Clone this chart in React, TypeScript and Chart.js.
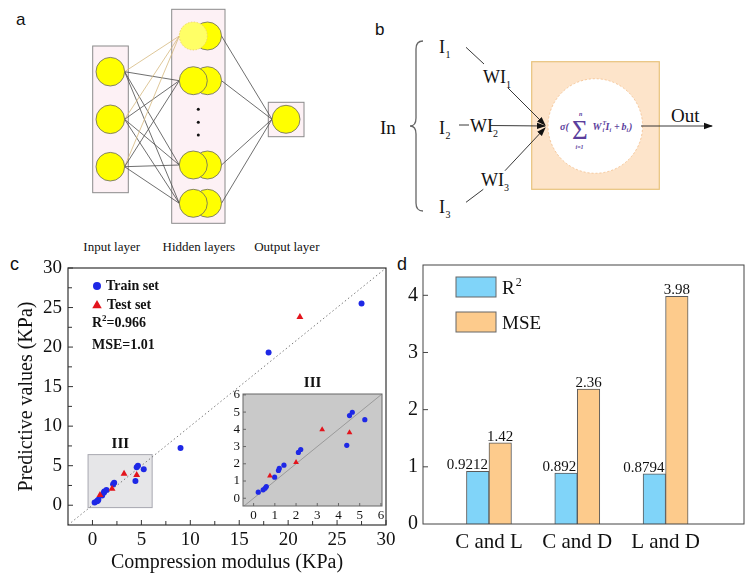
import React, { useEffect, useRef } from 'react';
import { Chart, registerables } from 'chart.js';

Chart.register(...registerables);

const SERIF = '"Liberation Serif", "Times New Roman", serif';
const SANS = '"Liberation Sans", Arial, sans-serif';

// ---- Panel c data (Compression modulus vs predicted, KPa) ----
const trainModulus = [0.22, 0.45, 0.54, 0.6, 0.99, 1.17, 1.21, 1.43, 2.11, 2.22, 4.39, 4.52, 4.65, 5.24, 9.0, 18.0, 27.5];
const trainPredicted = [0.35, 0.49, 0.58, 0.68, 1.22, 1.61, 1.73, 1.92, 2.66, 2.83, 3.07, 4.8, 4.99, 4.56, 7.25, 19.3, 25.5];
const testModulus = [0.77, 2.0, 3.23, 4.52, 21.2];
const testPredicted = [1.3, 2.08, 3.98, 3.81, 23.8];
const mainRange = [-2.5, 30];
const insetRange = [-0.45, 6.05];
const insetBox = { x0: -0.45, x1: 6.1, y0: -0.3, y1: 6.4 };
const statsText = ['R', '2', '=0.966'];
const mseText = 'MSE=1.01';

// ---- Panel d data ----
const categories = ['C and L', 'C and D', 'L and D'];
const r2Values = [0.9212, 0.892, 0.8794];
const mseValues = [1.42, 2.36, 3.98];

const BLUE = '#1e28e6';
const RED = '#e3141c';
const BAR_BLUE = '#80d4f9';
const BAR_ORANGE = '#fdcb8c';

function pts(xs: number[], ys: number[]) {
  return xs.map((x, i) => ({ x, y: ys[i] }));
}

function fixWidth(w: number) {
  return (s: any) => {
    s.width = w;
    s.paddingTop = 0;
    s.paddingBottom = 0;
  };
}
function fixHeight(h: number) {
  return (s: any) => {
    s.height = h;
    s.paddingLeft = 0;
    s.paddingRight = 0;
  };
}

function drawTriangle(ctx: CanvasRenderingContext2D, x: number, y: number, r: number) {
  ctx.beginPath();
  ctx.moveTo(x, y - r);
  ctx.lineTo(x + r * 0.95, y + r * 0.65);
  ctx.lineTo(x - r * 0.95, y + r * 0.65);
  ctx.closePath();
  ctx.fill();
}

const mainPlugin = {
  id: 'mainDecor',
  beforeDatasetsDraw(chart: any) {
    const { ctx, scales } = chart;
    const x = scales.x, y = scales.y;
    const px0 = x.getPixelForValue(insetBox.x0), px1 = x.getPixelForValue(insetBox.x1);
    const py0 = y.getPixelForValue(insetBox.y0), py1 = y.getPixelForValue(insetBox.y1);
    ctx.save();
    ctx.fillStyle = '#e6e6e8';
    ctx.fillRect(px0, py1, px1 - px0, py0 - py1);
    ctx.strokeStyle = '#a8a8b0';
    ctx.lineWidth = 1;
    ctx.strokeRect(px0, py1, px1 - px0, py0 - py1);
    ctx.restore();
  },
  afterDraw(chart: any) {
    const { ctx, chartArea: ca, scales } = chart;
    const x = scales.x, y = scales.y;
    ctx.save();
    ctx.strokeStyle = '#333';
    ctx.lineWidth = 1.2;
    ctx.strokeRect(ca.left, ca.top, ca.right - ca.left, ca.bottom - ca.top);
    ctx.lineWidth = 1;
    for (let v = 0; v <= 30; v += 2.5) {
      const len = v % 5 === 0 ? 5 : 4;
      const px = x.getPixelForValue(v);
      ctx.beginPath();
      ctx.moveTo(px, ca.bottom);
      ctx.lineTo(px, ca.bottom - len);
      ctx.stroke();
      const py = y.getPixelForValue(v);
      ctx.beginPath();
      ctx.moveTo(ca.left, py);
      ctx.lineTo(ca.left + len, py);
      ctx.stroke();
    }
    ctx.fillStyle = '#111';
    ctx.font = `bold 15px ${SERIF}`;
    ctx.textAlign = 'center';
    ctx.textBaseline = 'middle';
    ctx.fillText('III', x.getPixelForValue(2.85), y.getPixelForValue(7.7));
    ctx.fillText('III', x.getPixelForValue(22.5), y.getPixelForValue(15.4));
    const lx = ca.left + 29;
    ctx.fillStyle = BLUE;
    ctx.beginPath();
    ctx.arc(lx, ca.top + 18, 4, 0, Math.PI * 2);
    ctx.fill();
    ctx.fillStyle = RED;
    drawTriangle(ctx, lx, ca.top + 37, 5);
    ctx.fillStyle = '#111';
    ctx.font = `bold 14px ${SERIF}`;
    ctx.textAlign = 'left';
    ctx.fillText('Train set', lx + 9, ca.top + 18);
    ctx.fillText('Test set', lx + 10, ca.top + 37);
    let tx = ca.left + 24;
    const ty = ca.top + 55;
    ctx.fillText(statsText[0], tx, ty);
    tx += ctx.measureText(statsText[0]).width;
    ctx.font = `bold 9px ${SERIF}`;
    ctx.fillText(statsText[1], tx, ty - 4);
    tx += ctx.measureText(statsText[1]).width;
    ctx.font = `bold 14px ${SERIF}`;
    ctx.fillText(statsText[2], tx, ty);
    ctx.fillText(mseText, ca.left + 24, ca.top + 77);
    ctx.restore();
  },
};

const insetPlugin = {
  id: 'insetDecor',
  beforeDatasetsDraw(chart: any) {
    const { ctx, chartArea: ca } = chart;
    ctx.save();
    ctx.fillStyle = '#c9c9c9';
    ctx.fillRect(ca.left, ca.top, ca.right - ca.left, ca.bottom - ca.top);
    ctx.restore();
  },
  afterDraw(chart: any) {
    const { ctx, chartArea: ca, scales } = chart;
    ctx.save();
    ctx.strokeStyle = '#666';
    ctx.lineWidth = 1;
    ctx.strokeRect(ca.left, ca.top, ca.right - ca.left, ca.bottom - ca.top);
    for (let v = 0; v <= 6; v++) {
      const px = scales.x.getPixelForValue(v);
      ctx.beginPath();
      ctx.moveTo(px, ca.bottom);
      ctx.lineTo(px, ca.bottom - 3);
      ctx.stroke();
      const py = scales.y.getPixelForValue(v);
      ctx.beginPath();
      ctx.moveTo(ca.left, py);
      ctx.lineTo(ca.left + 3, py);
      ctx.stroke();
    }
    ctx.restore();
  },
};

const barPlugin = {
  id: 'barDecor',
  afterDatasetsDraw(chart: any) {
    const { ctx } = chart;
    ctx.save();
    ctx.fillStyle = '#111';
    ctx.font = `15px ${SERIF}`;
    ctx.textBaseline = 'alphabetic';
    const m0 = chart.getDatasetMeta(0);
    const m1 = chart.getDatasetMeta(1);
    m0.data.forEach((el: any, i: number) => {
      ctx.textAlign = 'right';
      ctx.fillText(String(r2Values[i]), el.x + el.width / 2 - 1, el.y - 2);
    });
    m1.data.forEach((el: any, i: number) => {
      ctx.textAlign = 'center';
      ctx.fillText(String(mseValues[i]), el.x, el.y - 2);
    });
    ctx.restore();
  },
  afterDraw(chart: any) {
    const { ctx, chartArea: ca, scales } = chart;
    ctx.save();
    ctx.strokeStyle = '#444';
    ctx.lineWidth = 1;
    ctx.strokeRect(ca.left, ca.top, ca.right - ca.left, ca.bottom - ca.top);
    for (let v = 1; v <= 4; v++) {
      const py = scales.y.getPixelForValue(v);
      ctx.beginPath();
      ctx.moveTo(ca.left, py);
      ctx.lineTo(ca.left + 5, py);
      ctx.stroke();
    }
    const bx = ca.left + 33;
    const items = [
      { c: BAR_BLUE, y: ca.top + 12 },
      { c: BAR_ORANGE, y: ca.top + 47 },
    ];
    items.forEach((it) => {
      ctx.fillStyle = it.c;
      ctx.fillRect(bx, it.y, 40, 20);
      ctx.strokeStyle = '#666';
      ctx.strokeRect(bx, it.y, 40, 20);
    });
    ctx.fillStyle = '#111';
    ctx.textAlign = 'left';
    ctx.textBaseline = 'alphabetic';
    ctx.font = `19px ${SERIF}`;
    ctx.fillText('R', bx + 46, ca.top + 29);
    const rw = ctx.measureText('R').width;
    ctx.font = `12px ${SERIF}`;
    ctx.fillText('2', bx + 47 + rw, ca.top + 21);
    ctx.font = `19px ${SERIF}`;
    ctx.fillText('MSE', bx + 46, ca.top + 64);
    ctx.restore();
  },
};

function axisCommon(min: number, max: number, step: number, size: number, pad: number) {
  return {
    type: 'linear' as const,
    min,
    max,
    offset: false,
    grid: { display: false, drawTicks: false, offset: false },
    border: { display: false },
    ticks: {
      stepSize: step,
      includeBounds: false,
      autoSkip: false,
      maxRotation: 0,
      padding: pad,
      color: '#111',
      font: { family: SERIF, size },
    },
  };
}

function NetworkDiagrams() {
  const inY = [71.7, 119.3, 166.7];
  const hidY = [36, 80.7, 165, 203.3];
  const inR = 124.6, hidL = 179.3, hidR = 221.5, outL = 272, outY = 119.3;
  const lines: any[] = [];
  inY.forEach((iy, a) => {
    hidY.forEach((hy, b) => {
      lines.push(
        <line key={`l${a}${b}`} x1={inR} y1={iy} x2={hidL} y2={hy}
          stroke={b === 0 ? '#d6b97f' : '#4a4a4a'} strokeWidth={0.8} />
      );
    });
  });
  hidY.forEach((hy, b) => {
    lines.push(<line key={`o${b}`} x1={hidR} y1={hy} x2={outL} y2={outY} stroke="#4a4a4a" strokeWidth={0.8} />);
  });
  const purple = '#5b3e9c';
  const fm = { fill: purple, fontFamily: SERIF, fontStyle: 'italic', fontWeight: 'bold' } as any;
  return (
    <svg width={750} height={576} style={{ position: 'absolute', left: 0, top: 0 }}>
      <defs>
        <marker id="arr" markerWidth="9" markerHeight="8" refX="8" refY="4" orient="auto" markerUnits="userSpaceOnUse">
          <path d="M0,0.8 L9,4 L0,7.2 z" fill="#111" />
        </marker>
      </defs>
      <text x={16} y={25} fontFamily={SANS} fontSize={17} fill="#111">a</text>
      <text x={375} y={35} fontFamily={SANS} fontSize={17} fill="#111">b</text>
      <text x={10} y={270} fontFamily={SANS} fontSize={18} fill="#111">c</text>
      <text x={397} y={270} fontFamily={SANS} fontSize={18} fill="#111">d</text>

      <rect x={92.7} y={46} width={35.6} height={146.7} fill="#fdf1f5" stroke="#8a8a8a" strokeWidth={1} />
      <rect x={171.7} y={9.3} width={53.3} height={214} fill="#fdf1f5" stroke="#8a8a8a" strokeWidth={1} />
      <rect x={268.3} y={102.3} width={35.7} height={34.4} fill="#fdf1f5" stroke="#8a8a8a" strokeWidth={1} />
      {lines}
      {inY.map((y, i) => (
        <circle key={`i${i}`} cx={110.3} cy={y} r={14.3} fill="#ffff00" stroke="#666" strokeWidth={0.8} />
      ))}
      {hidY.map((y, i) => (
        <circle key={`hb${i}`} cx={207.5} cy={y} r={14} fill="#ffff00" stroke="#666" strokeWidth={0.8} />
      ))}
      {hidY.map((y, i) =>
        i === 0 ? (
          <circle key={`hf${i}`} cx={193.3} cy={y} r={14} fill="#ffff66" stroke="#e8cc66" strokeWidth={0.8} strokeDasharray="1.5 1.5" />
        ) : (
          <circle key={`hf${i}`} cx={193.3} cy={y} r={14} fill="#ffff00" stroke="#666" strokeWidth={0.8} />
        )
      )}
      {[109.3, 122.3, 135].map((y, i) => (
        <circle key={`d${i}`} cx={198.3} cy={y} r={1.5} fill="#111" />
      ))}
      <circle cx={286} cy={119.3} r={14} fill="#ffff00" stroke="#666" strokeWidth={0.8} />
      <g fontFamily={SERIF} fontSize={13} fill="#111" textAnchor="middle">
        <text x={111.7} y={251}>Input layer</text>
        <text x={198.8} y={251}>Hidden layers</text>
        <text x={286.8} y={251}>Output layer</text>
      </g>

      <path d="M423,41 Q416,41 416,49 L416,118 Q416,126 410,126 Q416,126 416,134 L416,203 Q416,211 423,211"
        fill="none" stroke="#666" strokeWidth={1.3} />
      <text x={380} y={134} fontFamily={SERIF} fontSize={19} fill="#111">In</text>
      <g fontFamily={SERIF} fill="#111">
        <text x={439} y={53} fontSize={18}>I</text>
        <text x={445.5} y={58} fontSize={10}>1</text>
        <text x={439} y={134} fontSize={18}>I</text>
        <text x={445.5} y={139} fontSize={10}>2</text>
        <text x={439} y={213} fontSize={18}>I</text>
        <text x={445.5} y={218} fontSize={10}>3</text>
        <text x={483} y={83} fontSize={18}>WI</text>
        <text x={506} y={88} fontSize={10}>1</text>
        <text x={470} y={132} fontSize={18}>WI</text>
        <text x={493} y={137} fontSize={10}>2</text>
        <text x={481} y={186} fontSize={18}>WI</text>
        <text x={504} y={191} fontSize={10}>3</text>
      </g>
      <rect x={531.7} y={61.7} width={127.6} height={127.6} fill="#fde4ca" stroke="#e8c27c" strokeWidth={1.2} />
      <circle cx={595.3} cy={126} r={47.3} fill="#ffffff" stroke="#f6c79a" strokeWidth={1} strokeDasharray="2 2" />
      <line x1={466} y1={47.3} x2={484} y2={64} stroke="#222" strokeWidth={0.9} />
      <line x1={459} y1={125} x2={469} y2={125} stroke="#222" strokeWidth={0.9} />
      <line x1={466} y1={202.3} x2={483.3} y2={189.3} stroke="#222" strokeWidth={0.9} />
      <line x1={508} y1={88} x2={545} y2={125} stroke="#222" strokeWidth={0.9} markerEnd="url(#arr)" />
      <line x1={490} y1={125.5} x2={545} y2={126} stroke="#222" strokeWidth={0.9} markerEnd="url(#arr)" />
      <line x1={505} y1={170.7} x2={545} y2={128} stroke="#222" strokeWidth={0.9} markerEnd="url(#arr)" />
      <line x1={641} y1={126} x2={712} y2={126} stroke="#222" strokeWidth={0.9} markerEnd="url(#arr)" />
      <text x={671} y={122} fontFamily={SERIF} fontSize={19} fill="#111">Out</text>
      <text x={560} y={130} fontSize={10} {...fm}>σ(</text>
      <text x={572} y={139} fontSize={27} fill={purple} fontFamily={SERIF}>Σ</text>
      <text x={579} y={116} fontSize={6} {...fm}>n</text>
      <text x={575.5} y={149} fontSize={6} {...fm}>i=1</text>
      <text x={592.5} y={130} fontSize={10} {...fm}>W</text>
      <text x={602.5} y={125} fontSize={6} {...fm}>T</text>
      <text x={602.5} y={132} fontSize={6} {...fm}>i</text>
      <text x={605.5} y={130} fontSize={10} {...fm}>I</text>
      <text x={609.5} y={132} fontSize={6} {...fm}>i</text>
      <text x={614} y={130} fontSize={10} {...fm}>+</text>
      <text x={621.5} y={130} fontSize={10} {...fm}>b</text>
      <text x={626.5} y={132} fontSize={6} {...fm}>i</text>
      <text x={629} y={130} fontSize={10} {...fm}>)</text>
    </svg>
  );
}

export default function App() {
  const mainRef = useRef<HTMLCanvasElement>(null);
  const insetRef = useRef<HTMLCanvasElement>(null);
  const barRef = useRef<HTMLCanvasElement>(null);

  useEffect(() => {
    const charts: Chart[] = [];
    const train = pts(trainModulus, trainPredicted);
    const test = pts(testModulus, testPredicted);

    const mainX: any = axisCommon(mainRange[0], mainRange[1], 5, 19, 4);
    mainX.afterFit = fixHeight(51);
    mainX.title = { display: true, text: 'Compression modulus (KPa)', color: '#111', font: { family: SERIF, size: 20 }, padding: { top: 0, bottom: 1 } };
    const mainY: any = axisCommon(mainRange[0], mainRange[1], 5, 19, 6);
    mainY.afterFit = fixWidth(68);
    mainY.title = { display: true, text: 'Predictive values (KPa)', color: '#111', font: { family: SERIF, size: 20 }, padding: { top: 15, bottom: 0 } };

    charts.push(
      new Chart(mainRef.current!, {
        type: 'scatter',
        data: {
          datasets: [
            {
              data: [{ x: mainRange[0], y: mainRange[0] }, { x: mainRange[1], y: mainRange[1] }],
              showLine: true,
              borderColor: '#7a7a7a',
              borderWidth: 1,
              borderDash: [1.5, 2.5],
              pointRadius: 0,
              order: 3,
            } as any,
            { data: train, pointStyle: 'circle', pointRadius: 3, backgroundColor: BLUE, borderWidth: 0, order: 2 } as any,
            { data: test, pointStyle: 'triangle', pointRadius: 4, backgroundColor: RED, borderWidth: 0, order: 1 } as any,
          ],
        },
        options: {
          animation: false,
          responsive: false,
          layout: { padding: { top: 13, right: 9, left: 0, bottom: 0 } },
          plugins: { legend: { display: false }, tooltip: { enabled: false } },
          scales: { x: mainX, y: mainY },
        },
        plugins: [mainPlugin],
      })
    );

    const inX: any = axisCommon(-0.5, insetRange[1], 1, 13, 2);
    inX.afterFit = fixHeight(19);
    const inY: any = axisCommon(insetRange[0], insetRange[1], 1, 13, 3);
    inY.afterFit = fixWidth(18);
    const inTrain = train.filter((p) => p.x <= 6);
    const inTest = test.filter((p) => p.x <= 6);
    charts.push(
      new Chart(insetRef.current!, {
        type: 'scatter',
        data: {
          datasets: [
            {
              data: [{ x: insetRange[0], y: insetRange[0] }, { x: insetRange[1], y: insetRange[1] }],
              showLine: true,
              borderColor: '#9a9a9a',
              borderWidth: 1,
              pointRadius: 0,
              order: 3,
            } as any,
            { data: inTrain, pointStyle: 'circle', pointRadius: 2.6, backgroundColor: BLUE, borderWidth: 0, order: 2 } as any,
            { data: inTest, pointStyle: 'triangle', pointRadius: 3.3, backgroundColor: RED, borderWidth: 0, order: 1 } as any,
          ],
        },
        options: {
          animation: false,
          responsive: false,
          layout: { padding: { top: 9, right: 8, left: 0, bottom: 0 } },
          plugins: { legend: { display: false }, tooltip: { enabled: false } },
          scales: { x: inX, y: inY },
        },
        plugins: [insetPlugin],
      })
    );

    const barX: any = axisCommon(0.253, 3.888, 1, 21, 6);
    barX.afterFit = fixHeight(52);
    barX.ticks.callback = (v: number) => categories[Math.round(v) - 1] ?? '';
    const barY: any = axisCommon(0, 4.53, 1, 20, 5);
    barY.afterFit = fixWidth(28);
    charts.push(
      new Chart(barRef.current!, {
        type: 'bar',
        data: {
          datasets: [
            {
              label: 'R2',
              data: r2Values.map((v, i) => ({ x: i + 1, y: v })),
              backgroundColor: BAR_BLUE,
              borderColor: '#5a5a5a',
              borderWidth: 1,
              barThickness: 22.5,
            } as any,
            {
              label: 'MSE',
              data: mseValues.map((v, i) => ({ x: i + 1, y: v })),
              backgroundColor: BAR_ORANGE,
              borderColor: '#5a5a5a',
              borderWidth: 1,
              barThickness: 22.5,
            } as any,
          ],
        },
        options: {
          animation: false,
          responsive: false,
          layout: { padding: { top: 10, right: 6, left: 0, bottom: 0 } },
          plugins: { legend: { display: false }, tooltip: { enabled: false } },
          scales: { x: barX, y: barY },
        },
        plugins: [barPlugin],
      })
    );

    return () => charts.forEach((c) => c.destroy());
  }, []);

  return (
    <div style={{ position: 'absolute', left: 0, top: 0, width: 750, height: 576, background: '#fff', overflow: 'hidden' }}>
      <NetworkDiagrams />
      <canvas ref={mainRef} width={395} height={321} style={{ position: 'absolute', left: 0, top: 255, width: 395, height: 321 }} />
      <canvas ref={insetRef} width={165} height={140} style={{ position: 'absolute', left: 225, top: 385, width: 165, height: 140 }} />
      <canvas ref={barRef} width={355} height={321} style={{ position: 'absolute', left: 395, top: 255, width: 355, height: 321 }} />
    </div>
  );
}
